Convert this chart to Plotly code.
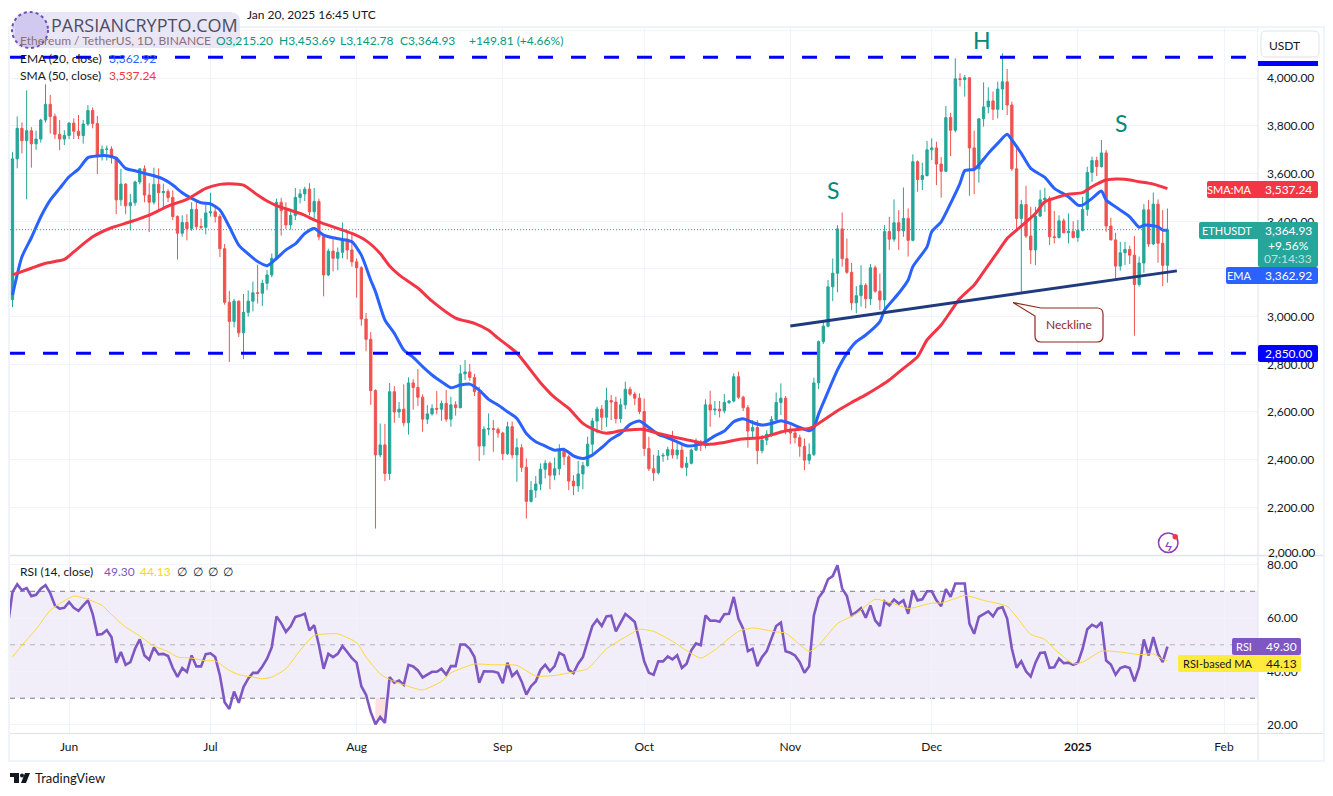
import pandas as pd
import plotly.graph_objects as go

# ETHUSDT daily. one row of ten per line
opens = [3071, 3662, 3790, 3738, 3780, 3725, 3745, 3825, 3891, 3840,
         3765, 3745, 3760, 3812, 3778, 3760, 3808, 3865, 3810, 3672,
         3702, 3703, 3668, 3490, 3556, 3465, 3478, 3565, 3620, 3510,
         3480, 3555, 3520, 3525, 3500, 3420, 3350, 3395, 3370, 3450,
         3378, 3375, 3435, 3440, 3420, 3285, 3060, 2980, 3065, 2932,
         3018, 3065, 3100, 3098, 3140, 3175, 3245, 3480, 3445, 3385,
         3425, 3500, 3515, 3535, 3440, 3483, 3335, 3175, 3275, 3245,
         3270, 3325, 3280, 3230, 3205, 2990, 2905, 2690, 2420, 2462,
         2342, 2685, 2600, 2612, 2555, 2722, 2703, 2662, 2570, 2592,
         2615, 2612, 2636, 2570, 2630, 2618, 2760, 2768, 2745, 2685,
         2457, 2528, 2530, 2527, 2512, 2425, 2538, 2420, 2450, 2368,
         2225, 2272, 2298, 2360, 2385, 2335, 2362, 2440, 2412, 2310,
         2290, 2340, 2375, 2465, 2562, 2612, 2578, 2648, 2642, 2572,
         2630, 2695, 2675, 2658, 2602, 2447, 2362, 2345, 2415, 2418,
         2442, 2420, 2440, 2368, 2385, 2440, 2475, 2460, 2630, 2608,
         2612, 2605, 2640, 2646, 2748, 2662, 2618, 2520, 2535, 2438,
         2482, 2507, 2568, 2640, 2658, 2518, 2512, 2492, 2456, 2398,
         2422, 2722, 2895, 2960, 3125, 3182, 3368, 3243, 3186, 3058,
         3088, 3132, 3075, 3205, 3107, 3070, 3357, 3325, 3394, 3360,
         3412, 3320, 3650, 3575, 3592, 3700, 3708, 3640, 3610, 3835,
         3782, 3998, 3995, 4002, 3708, 3620, 3830, 3880, 3905, 3870,
         3955, 3985, 3888, 3620, 3412, 3470, 3338, 3280, 3422, 3490,
         3497, 3335, 3332, 3402, 3352, 3358, 3332, 3362, 3450, 3605,
         3655, 3630, 3687, 3380, 3322, 3212, 3268, 3282, 3258, 3135,
         3225, 3448, 3305, 3472, 3308, 3215.20]
highs = [3690, 3840, 3815, 3949, 3795, 3780, 3830, 3975, 3930, 3852,
         3825, 3782, 3815, 3832, 3846, 3825, 3887, 3878, 3842, 3718,
         3718, 3715, 3672, 3620, 3560, 3515, 3570, 3622, 3635, 3560,
         3625, 3622, 3558, 3535, 3530, 3425, 3425, 3430, 3480, 3490,
         3412, 3470, 3520, 3465, 3430, 3305, 3108, 3075, 3068, 3095,
         3110, 3147, 3218, 3155, 3195, 3265, 3495, 3498, 3480, 3440,
         3540, 3535, 3545, 3560, 3540, 3495, 3345, 3285, 3325, 3290,
         3395, 3355, 3350, 3245, 3212, 3015, 2935, 2695, 2552, 2550,
         2722, 2708, 2642, 2716, 2745, 2738, 2780, 2674, 2629, 2632,
         2688, 2648, 2692, 2664, 2645, 2797, 2818, 2801, 2760, 2706,
         2540, 2594, 2566, 2535, 2517, 2559, 2560, 2489, 2465, 2405,
         2310, 2331, 2384, 2398, 2392, 2409, 2465, 2450, 2420, 2335,
         2395, 2391, 2496, 2576, 2622, 2629, 2702, 2671, 2664, 2657,
         2727, 2706, 2685, 2678, 2657, 2496, 2420, 2440, 2429, 2454,
         2521, 2468, 2465, 2412, 2447, 2489, 2482, 2653, 2689, 2646,
         2646, 2675, 2650, 2762, 2769, 2668, 2629, 2566, 2566, 2503,
         2524, 2583, 2682, 2720, 2667, 2545, 2527, 2505, 2489, 2468,
         2744, 2900, 2979, 3154, 3244, 3384, 3437, 3328, 3225, 3128,
         3216, 3140, 3221, 3215, 3181, 3384, 3419, 3492, 3447, 3542,
         3454, 3681, 3656, 3646, 3737, 3748, 3734, 3670, 3884, 3855,
         4084, 4021, 4014, 4005, 3780, 3830, 3983, 3962, 3944, 3986,
         4105, 4039, 3902, 3706, 3490, 3549, 3461, 3461, 3531, 3541,
         3505, 3443, 3425, 3412, 3433, 3400, 3405, 3503, 3629, 3671,
         3671, 3741, 3699, 3415, 3352, 3314, 3314, 3298, 3338, 3252,
         3472, 3489, 3521, 3492, 3447, 3453.69]
lows = [3040, 3622, 3685, 3492, 3625, 3700, 3730, 3815, 3768, 3745,
        3698, 3720, 3745, 3745, 3745, 3726, 3800, 3790, 3598, 3655,
        3655, 3642, 3430, 3465, 3430, 3362, 3465, 3555, 3480, 3355,
        3470, 3440, 3452, 3480, 3405, 3240, 3335, 3320, 3360, 3365,
        3365, 3345, 3420, 3395, 3250, 3050, 2810, 2955, 2915, 2822,
        3000, 3022, 3055, 3045, 3112, 3165, 3240, 3340, 3368, 3365,
        3405, 3475, 3485, 3425, 3405, 3320, 3085, 3170, 3190, 3195,
        3245, 3240, 3210, 3080, 2962, 2855, 2630, 2111, 2410, 2310,
        2315, 2555, 2575, 2540, 2505, 2610, 2625, 2517, 2549, 2585,
        2590, 2563, 2559, 2538, 2585, 2615, 2735, 2731, 2667, 2395,
        2419, 2503, 2433, 2492, 2398, 2420, 2405, 2307, 2349, 2153,
        2220, 2240, 2272, 2321, 2276, 2314, 2335, 2377, 2272, 2251,
        2265, 2276, 2370, 2426, 2510, 2524, 2538, 2566, 2552, 2555,
        2612, 2668, 2629, 2591, 2416, 2352, 2311, 2338, 2391, 2398,
        2405, 2402, 2363, 2331, 2380, 2436, 2436, 2447, 2538, 2587,
        2577, 2594, 2633, 2640, 2655, 2604, 2450, 2489, 2381, 2426,
        2461, 2496, 2560, 2587, 2506, 2465, 2468, 2412, 2356, 2381,
        2415, 2696, 2885, 2955, 3065, 3102, 3210, 3180, 3028, 3014,
        3042, 3035, 3049, 3100, 3028, 3035, 3280, 3314, 3280, 3335,
        3252, 3316, 3524, 3531, 3588, 3657, 3552, 3499, 3606, 3674,
        3773, 3965, 3923, 3507, 3514, 3562, 3797, 3853, 3825, 3832,
        3867, 3846, 3612, 3363, 3098, 3330, 3221, 3216, 3418, 3440,
        3300, 3307, 3328, 3350, 3307, 3328, 3314, 3358, 3423, 3566,
        3590, 3625, 3356, 3320, 3161, 3193, 3216, 3221, 2920, 3126,
        3184, 3293, 3300, 3226, 3128, 3142.78]
closes = [3662, 3790, 3738, 3780, 3725, 3745, 3825, 3891, 3840, 3765,
          3745, 3760, 3812, 3778, 3760, 3808, 3865, 3810, 3672, 3702,
          3703, 3668, 3490, 3556, 3465, 3478, 3565, 3620, 3510, 3480,
          3555, 3520, 3525, 3500, 3420, 3350, 3395, 3370, 3450, 3378,
          3375, 3435, 3440, 3420, 3285, 3060, 2980, 3065, 2932, 3018,
          3065, 3100, 3098, 3140, 3175, 3245, 3480, 3445, 3385, 3425,
          3500, 3515, 3535, 3440, 3483, 3335, 3175, 3275, 3245, 3270,
          3325, 3280, 3230, 3205, 2990, 2905, 2690, 2420, 2462, 2342,
          2685, 2600, 2612, 2555, 2722, 2703, 2662, 2570, 2592, 2615,
          2612, 2636, 2570, 2630, 2618, 2760, 2768, 2745, 2685, 2457,
          2528, 2530, 2527, 2512, 2425, 2538, 2420, 2450, 2368, 2225,
          2272, 2298, 2360, 2385, 2335, 2362, 2440, 2412, 2310, 2290,
          2340, 2375, 2465, 2562, 2612, 2578, 2648, 2642, 2572, 2630,
          2695, 2675, 2658, 2602, 2447, 2362, 2345, 2415, 2418, 2442,
          2420, 2440, 2368, 2385, 2440, 2475, 2460, 2630, 2608, 2612,
          2605, 2640, 2646, 2748, 2662, 2618, 2520, 2535, 2438, 2482,
          2507, 2568, 2640, 2658, 2518, 2512, 2492, 2456, 2398, 2422,
          2722, 2895, 2960, 3125, 3182, 3368, 3243, 3186, 3058, 3088,
          3132, 3075, 3205, 3107, 3070, 3357, 3325, 3394, 3360, 3412,
          3320, 3650, 3575, 3592, 3700, 3708, 3640, 3610, 3835, 3782,
          3998, 3995, 4002, 3708, 3620, 3830, 3880, 3905, 3870, 3955,
          3985, 3888, 3620, 3412, 3470, 3338, 3280, 3422, 3490, 3497,
          3335, 3332, 3402, 3352, 3358, 3332, 3362, 3450, 3605, 3655,
          3630, 3687, 3380, 3322, 3212, 3268, 3282, 3258, 3135, 3225,
          3448, 3305, 3472, 3308, 3215.20, 3364.93]

# moving averages, vertices taken from the drawn lines (bar number, price)
ema_bars = [0, 2, 4, 6, 8, 10, 12, 14, 16, 18, 20, 22, 24, 26, 28, 30, 32, 34, 36, 38,
            40, 42, 44, 46, 48, 50, 52, 54, 56, 58, 60, 62, 64, 66, 68, 70, 72, 74, 76, 77,
            79, 81, 83, 85, 87, 89, 91, 93, 95, 97, 99, 101, 103, 105, 107, 109, 111, 113, 115, 117,
            119, 121, 123, 125, 127, 129, 131, 133, 135, 137, 139, 141, 143, 145, 147, 149, 151, 153, 155, 157,
            159, 161, 163, 165, 167, 169, 170, 171, 173, 175, 177, 179, 181, 184, 185, 188, 190, 191, 194, 195,
            197, 199, 201, 202, 204, 205, 207, 209, 211, 212, 214, 216, 219, 221, 224, 226, 227, 229, 231, 232,
            235, 237, 239, 240, 243, 244, 245]
ema_values = [3090, 3251, 3331, 3419, 3489, 3538, 3587, 3619, 3667, 3674, 3675, 3664, 3622, 3612, 3601, 3591, 3577, 3552, 3520, 3496,
              3478, 3473, 3447, 3377, 3300, 3263, 3231, 3214, 3244, 3280, 3305, 3349, 3370, 3342, 3331, 3324, 3314, 3258, 3153, 3105,
              2986, 2930, 2860, 2829, 2790, 2755, 2727, 2702, 2713, 2717, 2692, 2653, 2629, 2601, 2573, 2510, 2475, 2457, 2440, 2443,
              2416, 2405, 2419, 2451, 2486, 2510, 2548, 2562, 2535, 2506, 2492, 2475, 2458, 2461, 2475, 2500, 2520, 2559, 2572, 2556,
              2545, 2552, 2563, 2552, 2535, 2521, 2535, 2591, 2685, 2776, 2846, 2895, 2923, 2979, 3028, 3098, 3154, 3210, 3293, 3356,
              3398, 3475, 3559, 3612, 3618, 3636, 3685, 3727, 3765, 3741, 3685, 3622, 3584, 3538, 3503, 3468, 3468, 3496, 3527, 3489,
              3447, 3419, 3375, 3384, 3377, 3363, 3362.92]
sma_bars = [0, 4, 7, 11, 13, 17, 21, 25, 29, 33, 37, 41, 44, 46, 49, 52, 54, 56, 61, 65,
            68, 72, 75, 78, 80, 82, 86, 89, 94, 98, 101, 103, 107, 112, 115, 118, 121, 124, 126, 129,
            132, 134, 137, 140, 145, 147, 151, 154, 159, 162, 165, 169, 171, 175, 178, 181, 184, 186, 189, 192,
            194, 197, 199, 201, 204, 206, 209, 211, 213, 217, 219, 222, 224, 227, 229, 232, 234, 236, 239, 242, 245]
sma_values = [3175, 3203, 3224, 3240, 3272, 3335, 3373, 3398, 3426, 3464, 3492, 3538, 3555, 3558, 3552, 3510, 3485, 3466, 3433, 3398,
              3377, 3349, 3319, 3265, 3212, 3175, 3120, 3065, 2994, 2972, 2943, 2910, 2847, 2723, 2661, 2615, 2552, 2521, 2511, 2521,
              2527, 2527, 2510, 2496, 2475, 2464, 2472, 2485, 2493, 2510, 2524, 2531, 2552, 2605, 2640, 2672, 2708, 2734, 2783, 2832,
              2902, 2965, 3021, 3077, 3133, 3188, 3272, 3328, 3363, 3433, 3482, 3503, 3514, 3520, 3545, 3573, 3577, 3576, 3566, 3556, 3537.24]

# RSI pane: first value belongs to the bar just left of the frame
rsi_values = [57, 69.7, 72.6, 70.4, 71.2, 68.2, 68.7, 71, 72.3, 69.3, 64.7,
              63.5, 63.8, 66, 63.8, 62.7, 64.7, 66.6, 61.6, 53.7, 54,
              55.5, 52.9, 43.3, 47.3, 42.5, 43.5, 48.5, 52, 46, 44.4,
              49, 46.4, 46.6, 45.8, 41.3, 38, 41.3, 39.8, 46, 41.9,
              41.9, 46.5, 46.8, 45.4, 38.5, 28.5, 26, 32.5, 28.3, 34.2,
              37.3, 39.5, 39.5, 41.9, 44.8, 49.1, 60.6, 58.1, 54.8, 56.9,
              60.4, 60.9, 61.6, 55.4, 57.3, 49.8, 41, 46.6, 45.4, 46.6,
              49.5, 47.3, 45, 43.3, 34.5, 31.3, 24.8, 20.3, 23, 20.8,
              37.9, 35.8, 36.6, 35, 42.5, 41.9, 40.4, 37.8, 38.8, 39.9,
              39.9, 41, 38.8, 42, 42, 50.1, 50.1, 48.5, 45.4, 35.8,
              40.1, 40.1, 40, 39.5, 35.6, 43.3, 38.3, 40, 36.3, 31.4,
              34.5, 36.3, 40.6, 42.5, 40.1, 42, 47, 46, 40.6, 39.4,
              42.9, 45.4, 50.8, 57, 59.4, 57, 60.6, 60.9, 55, 58.1,
              61.5, 60.1, 58.5, 51.6, 43.8, 39.5, 38.8, 43.8, 43.8, 45.6,
              44.5, 46.1, 41.3, 42.9, 47.9, 50.5, 49.8, 61, 59, 59.1,
              58.6, 61.4, 61.6, 67.9, 59.7, 56, 47.6, 48.5, 42, 45.4,
              47.6, 52.3, 57, 58.3, 47.6, 47, 46, 43.5, 39.5, 42,
              61, 67.6, 70, 74.5, 75.7, 79.7, 71, 68.2, 61, 62.2,
              63.7, 60.1, 64.7, 59.1, 57, 66.2, 64.7, 66.9, 65.4, 66.6,
              61.6, 70.4, 66.6, 67, 70, 70, 66.6, 64.4, 70.8, 67.9,
              72.9, 72.9, 72.9, 57.9, 54.1, 60.4, 61.6, 62.5, 60.6, 63.5,
              64.1, 59.8, 48.5, 41.4, 43.8, 40.1, 38.1, 43.3, 46.9, 47.1,
              41.4, 41.6, 44.8, 43.1, 43.3, 42.5, 43.3, 48.5, 55.8, 57.5,
              56.6, 58.5, 44.1, 42.6, 38.8, 41.3, 41.9, 41.3, 36.3, 41.6,
              52, 46, 52.9, 46.6, 43.5, 49.3]
rsi_ma_bars = [0, 2, 5, 8, 10, 13, 16, 19, 21, 24, 27, 30, 33, 35, 38, 41, 43, 46, 48, 51,
               53, 55, 58, 61, 64, 67, 69, 73, 75, 78, 80, 83, 87, 91, 93, 95, 98, 102, 107, 111,
               115, 119, 122, 126, 130, 133, 136, 140, 143, 146, 149, 154, 157, 162, 164, 169, 171, 175, 179, 183,
               188, 190, 195, 197, 200, 202, 206, 211, 213, 216, 219, 221, 225, 227, 231, 235, 239, 242, 244, 245]
rsi_ma_values = [45.5, 49.8, 55.8, 62.9, 65.4, 68.2, 67, 64.7, 61.3, 56.6, 53.3, 49.5, 47.5, 45.4, 45, 44, 44, 40.4, 38.8, 37.9,
                 37.3, 37.9, 41, 47.9, 53.5, 54.1, 54.1, 50.8, 45.4, 39.1, 37, 35, 33.1, 36.3, 39.5, 41, 42.8, 42.5, 42.3, 38.3,
                 38.5, 39.8, 41, 48.5, 52.9, 55.8, 55, 51.3, 47.8, 45, 48.1, 55, 56.3, 54.8, 54.4, 47.5, 49.8, 57.9, 61.6, 67,
                 64.7, 63.5, 65.6, 65.6, 67.3, 68.5, 66.6, 64.4, 60.4, 53.9, 52, 48.5, 42.9, 43.5, 47.6, 47.3, 46.3, 46.6, 44.5, 44.13]

# 3,200 and 4,200 sit fully behind tags on the price scale, so they get no text
# 2,000 is placed by hand a little higher, it would sit on the pane split otherwise
price_ticks = [2000, 2200, 2400, 2600, 2800, 3000, 3200, 3400, 3600, 3800, 4000, 4200]
price_labels = ["", "2,200.00", "2,400.00", "2,600.00", "2,800.00", "3,000.00", "",
                "3,400.00", "3,600.00", "3,800.00", "4,000.00", ""]
rsi_ticks = [20, 40, 60, 80]
month_ticks = ["2024-06-01", "2024-07-01", "2024-08-01", "2024-09-01", "2024-10-01",
               "2024-11-01", "2024-12-01", "2025-01-01", "2025-02-01"]
month_labels = ["Jun", "Jul", "Aug", "Sep", "Oct", "Nov", "Dec", "<b>2025</b>", "Feb"]

# levels drawn by hand on the chart
support_level = 2846
resistance_level = 4088
neck_bars = [165, 247]
neck_prices = [2961, 3192]
last_price = 3364.93

FONT = "Lato"
UP = "#26a69a"
DOWN = "#ef5350"
BLUE = "#2962ff"
RED = "#f23645"
PURPLE = "#7e57c2"
YELLOW = "#fdd835"
INK = "#131722"
GRID = "#f0f3fa"
EDGE = "#e0e3eb"

# the page keeps the browser's 8px body margin
OFF = 8
W = 1333 - 2 * OFF
H = 796 - 2 * OFF


def px(x):
    return (x - OFF) / W


def py(y):
    return 1 - (y - OFF) / H


dates = pd.date_range("2024-05-20", periods=len(closes))
rsi_dates = pd.date_range("2024-05-19", periods=len(rsi_values))
# bar 0 sits at x=12.5, one day is 4.714px
x_left = dates[0] + pd.Timedelta(days=(10 - 12.5) / 4.714)
x_right = dates[0] + pd.Timedelta(days=(1258 - 12.5) / 4.714)

fig = go.Figure()

fig.add_trace(go.Candlestick(
    x=dates, open=opens, high=highs, low=lows, close=closes,
    increasing=dict(line=dict(color=UP, width=1), fillcolor=UP),
    decreasing=dict(line=dict(color=DOWN, width=1), fillcolor=DOWN),
    whiskerwidth=0, xaxis="x", yaxis="y", showlegend=False,
))
fig.add_trace(go.Scatter(x=dates[ema_bars], y=ema_values, mode="lines",
                         line=dict(color=BLUE, width=3, shape="spline", smoothing=0.6), xaxis="x", yaxis="y"))
fig.add_trace(go.Scatter(x=dates[sma_bars], y=sma_values, mode="lines",
                         line=dict(color=RED, width=3, shape="spline", smoothing=0.6), xaxis="x", yaxis="y"))

# hand drawn levels
for level in [resistance_level, support_level]:
    fig.add_trace(go.Scatter(x=[x_left, x_right], y=[level, level], mode="lines",
                             line=dict(color="#0000ff", width=3, dash="15px,18px"), xaxis="x", yaxis="y"))
fig.add_trace(go.Scatter(x=[x_left, dates[-1]], y=[last_price, last_price], mode="lines",
                         line=dict(color=UP, width=1, dash="1px,2px"), xaxis="x", yaxis="y"))
fig.add_trace(go.Scatter(x=[dates[0] + pd.Timedelta(days=b) for b in neck_bars], y=neck_prices, mode="lines",
                         line=dict(color="#1f3a7d", width=3), xaxis="x", yaxis="y"))

# RSI pane
fig.add_trace(go.Scatter(x=list(rsi_dates[78:82]) + [rsi_dates[81], rsi_dates[78]],
                         y=rsi_values[78:82] + [30, 30], fill="toself", mode="none",
                         fillcolor="rgba(239,83,80,0.18)", xaxis="x2", yaxis="y2"))
fig.add_trace(go.Scatter(x=rsi_dates, y=rsi_values, mode="lines",
                         line=dict(color=PURPLE, width=2.6), xaxis="x2", yaxis="y2"))
fig.add_trace(go.Scatter(x=dates[rsi_ma_bars], y=rsi_ma_values, mode="lines",
                         line=dict(color=YELLOW, width=1, shape="spline", smoothing=0.5), xaxis="x2", yaxis="y2"))

shapes = []


def rect(x0, y0, x1, y1, fill, line=None, width=1, r=0):
    # rounded box in screen pixels
    if r == 0:
        path = f"M{px(x0)},{py(y0)} L{px(x1)},{py(y0)} L{px(x1)},{py(y1)} L{px(x0)},{py(y1)} Z"
    else:
        path = (f"M{px(x0 + r)},{py(y0)} L{px(x1 - r)},{py(y0)} Q{px(x1)},{py(y0)} {px(x1)},{py(y0 + r)} "
                f"L{px(x1)},{py(y1 - r)} Q{px(x1)},{py(y1)} {px(x1 - r)},{py(y1)} "
                f"L{px(x0 + r)},{py(y1)} Q{px(x0)},{py(y1)} {px(x0)},{py(y1 - r)} "
                f"L{px(x0)},{py(y0 + r)} Q{px(x0)},{py(y0)} {px(x0 + r)},{py(y0)} Z")
    shapes.append(dict(type="path", path=path, xref="paper", yref="paper", fillcolor=fill,
                       line=dict(color=line if line else "rgba(0,0,0,0)", width=width if line else 0)))


# RSI band and its three levels
shapes.append(dict(type="rect", xref="x2", yref="y2", x0=x_left, x1=x_right, y0=30, y1=70,
                   fillcolor="rgba(126,87,194,0.1)", line=dict(width=0), layer="below"))
for level, color in [(70, "#787b86"), (50, "#b2b5be"), (30, "#787b86")]:
    shapes.append(dict(type="line", xref="x2", yref="y2", x0=x_left, x1=x_right, y0=level, y1=level,
                       line=dict(color=color, width=1, dash="5px,5px"), layer="below"))

# chart frame, pane split, price scale rule
rect(9, 27, 1324, 761, None, line=GRID, width=2)
shapes.append(dict(type="line", xref="paper", yref="paper", x0=px(10), x1=px(1323), y0=py(555.5), y1=py(555.5),
                   line=dict(color=EDGE, width=1.5)))
shapes.append(dict(type="line", xref="paper", yref="paper", x0=px(10), x1=px(1323), y0=py(733.5), y1=py(733.5),
                   line=dict(color=EDGE, width=1)))
shapes.append(dict(type="line", xref="paper", yref="paper", x0=px(1258), x1=px(1258), y0=py(28), y1=py(760),
                   line=dict(color=EDGE, width=1)))

# price tags
rect(1258, 49, 1318, 66, "#0000ff")
rect(1258, 345, 1318, 362, "#0000ff", r=2)
rect(1207, 181, 1318, 198, RED, r=2)
rect(1199, 222, 1318, 239, UP, r=2)
rect(1258, 222, 1318, 267, UP, r=2)
rect(1226, 267, 1318, 284, BLUE, r=2)
rect(1232, 638, 1301, 655, PURPLE, r=2)
rect(1178, 655, 1301, 672, "#ffeb3b", r=2)
rect(1258, 29, 1322, 61, "white")
rect(1261, 31, 1319, 57, "white", line=EDGE, r=5)

# watermark over the header
rect(15, 12, 240, 48, "rgba(226,222,242,0.75)", r=10)
shapes.append(dict(type="circle", xref="paper", yref="paper", x0=px(12), x1=px(48), y0=py(48), y1=py(12),
                   fillcolor="rgba(170,150,225,0.35)", line=dict(color="#6a4fc0", width=2, dash="dot")))

# neckline callout with its tail
cx0, cy0, cx1, cy1 = 1035, 308, 1103, 342
neck_path = (f"M{px(cx0 + 6)},{py(cy0)} L{px(cx1 - 6)},{py(cy0)} Q{px(cx1)},{py(cy0)} {px(cx1)},{py(cy0 + 6)} "
             f"L{px(cx1)},{py(cy1 - 6)} Q{px(cx1)},{py(cy1)} {px(cx1 - 6)},{py(cy1)} "
             f"L{px(cx0 + 6)},{py(cy1)} Q{px(cx0)},{py(cy1)} {px(cx0)},{py(cy1 - 6)} "
             f"L{px(cx0)},{py(cy0 + 8)} L{px(1013)},{py(302.5)} L{px(cx0 + 6)},{py(cy0)} Z")
shapes.append(dict(type="path", path=neck_path, xref="paper", yref="paper", fillcolor="white",
                   line=dict(color="#8d2a1e", width=1.2)))

# alert icon near the bottom of the price pane
shapes.append(dict(type="circle", xref="paper", yref="paper", x0=px(1158.5), x1=px(1178), y0=py(552.5), y1=py(533),
                   fillcolor="white", line=dict(color="#8e3fb5", width=1.5)))
shapes.append(dict(type="circle", xref="paper", yref="paper", x0=px(1172.5), x1=px(1178), y0=py(539.5), y1=py(534),
                   fillcolor=RED, line=dict(width=0)))

# TradingView mark
shapes.append(dict(type="path", xref="paper", yref="paper", fillcolor=INK, line=dict(width=0),
                   path=f"M{px(10)},{py(773)} L{px(19)},{py(773)} L{px(19)},{py(783)} L{px(14)},{py(783)} "
                        f"L{px(14)},{py(777)} L{px(10)},{py(777)} Z"))
shapes.append(dict(type="circle", xref="paper", yref="paper", x0=px(20), x1=px(24), y0=py(777.5), y1=py(773.5),
                   fillcolor=INK, line=dict(width=0)))
shapes.append(dict(type="path", xref="paper", yref="paper", fillcolor=INK, line=dict(width=0),
                   path=f"M{px(25)},{py(773)} L{px(30)},{py(773)} L{px(26)},{py(783)} L{px(21)},{py(783)} Z"))

annotations = []


def label(x, y, text, color=INK, size=12, anchor="left", family=FONT):
    annotations.append(dict(x=px(x), y=py(y), xref="paper", yref="paper", text=text, showarrow=False,
                            xanchor=anchor, yanchor="middle", font=dict(family=family, size=size, color=color)))


# header
label(245, 14.5, "Jan 20, 2025 16:45 UTC")
label(49, 25, "PARSIANCRYPTO.COM", color="#4e4e63", size=18, family="Open Sans")
label(18, 41, "Ethereum / TetherUS, 1D, BINANCE", color="#8d6f78")
OHLC = "#089981"
label(214, 41, "O3,215.20", color=OHLC)
label(277, 41, "H3,453.69", color=OHLC)
label(338, 41, "L3,142.78", color=OHLC)
label(398, 41, "C3,364.93", color=OHLC)
label(467, 41, "+149.81 (+4.66%)", color=OHLC)
label(18, 59, "EMA (20, close)")
label(107, 59, "3,362.92", color=BLUE)
label(18, 75, "SMA (50, close)")
label(107, 75, "3,537.24", color=RED)
label(18, 571, "RSI (14, close)")
label(102, 571, "49.30", color=PURPLE)
label(138, 571, "44.13", color="#f9d71c")
label(175, 571, "∅", size=12)
label(191, 571, "∅", size=12)
label(206, 571, "∅", size=12)
label(221, 571, "∅", size=12)

# pattern letters
label(833, 190, "S", color="#00897b", size=23, anchor="center")
label(982, 40, "H", color="#00897b", size=23, anchor="center")
label(1121, 123, "S", color="#00897b", size=23, anchor="center")
label(1069, 324, "Neckline", color="#8d2a1e", size=12, anchor="center")

# tag texts
label(1284, 45, "USDT", anchor="center")
label(1266, 552, "2,000.00")
label(1254, 189.5, "SMA:MA", color="white", size=11, anchor="right")
label(1288, 189.5, "3,537.24", color="white", anchor="center")
label(1254, 230.5, "ETHUSDT", color="white", size=11, anchor="right")
label(1288, 230.5, "3,364.93", color="white", anchor="center")
label(1288, 245, "+9.56%", color="white", anchor="center")
label(1288, 258.5, "07:14:33", color="#b9e2dd", anchor="center")
label(1254, 275.5, "EMA", color="white", size=11, anchor="right")
label(1288, 275.5, "3,362.92", color="white", anchor="center")
label(1288, 353, "2,850.00", color="white", anchor="center")
label(1254, 646.5, "RSI", color="white", size=11, anchor="right")
label(1281, 646.5, "49.30", color="white", anchor="center")
label(1254, 663.5, "RSI-based MA", color=INK, size=11, anchor="right")
label(1281, 663.5, "44.13", color=INK, anchor="center")
label(33, 778, "TradingView", color=INK, size=13)
label(1168, 543, "ϟ", color="#8e3fb5", size=14, anchor="center")

fig.update_layout(
    width=W, height=H,
    margin=dict(l=0, r=0, t=0, b=0, autoexpand=False),
    paper_bgcolor="white", plot_bgcolor="white",
    showlegend=False, hovermode=False,
    font=dict(family=FONT, size=12, color=INK),
    shapes=shapes, annotations=annotations,
    xaxis=dict(domain=[px(10), px(1258)], range=[x_left, x_right], anchor="y",
               tickmode="array", tickvals=month_ticks, ticktext=month_labels, showticklabels=False,
               showgrid=True, gridcolor=GRID, zeroline=False, ticks="", rangeslider=dict(visible=False)),
    yaxis=dict(domain=[py(555), py(28)], range=[2000, 4211], side="right", anchor="x",
               tickmode="array", tickvals=price_ticks, ticktext=price_labels, ticklabelstandoff=8,
               showgrid=True, gridcolor=GRID, zeroline=False, ticks="", tickfont=dict(size=12, color=INK)),
    xaxis2=dict(domain=[px(10), px(1258)], range=[x_left, x_right], anchor="y2",
                tickmode="array", tickvals=month_ticks, ticktext=month_labels, ticklabelstandoff=5,
                showgrid=True, gridcolor=GRID, zeroline=False, ticks="", tickfont=dict(size=12, color=INK)),
    yaxis2=dict(domain=[py(733), py(556)], range=[17.0, 83.2], side="right", anchor="x2",
                tickmode="array", tickvals=rsi_ticks, tickformat=".2f", ticklabelstandoff=8,
                showgrid=True, gridcolor=GRID, zeroline=False, ticks="", tickfont=dict(size=12, color=INK)),
)

fig.write_html("out.html")
